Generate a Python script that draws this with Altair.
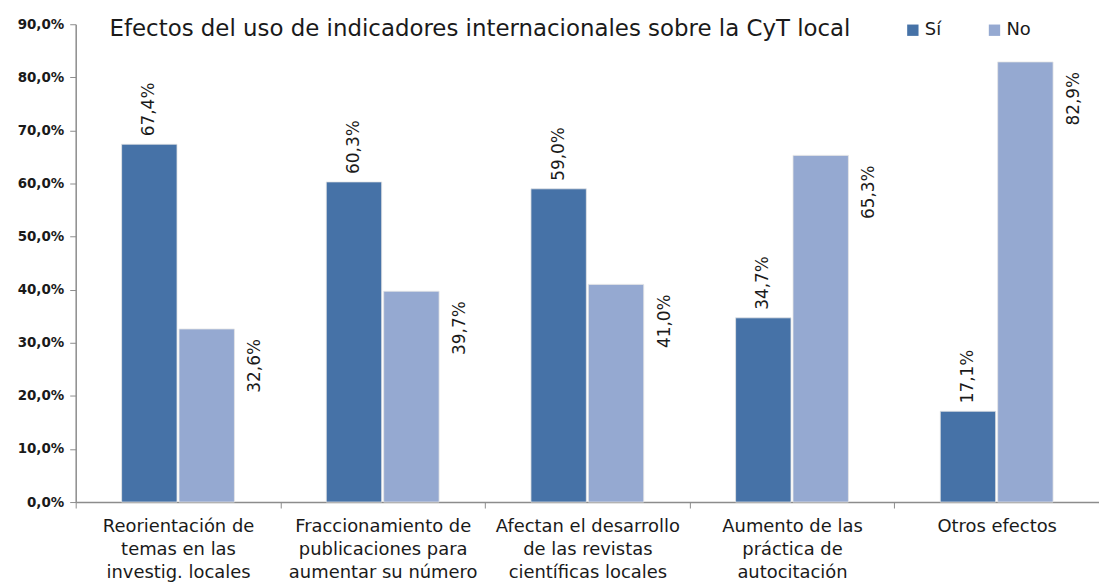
import altair as alt
import pandas as pd

categories = [
    "Reorientación de|temas en las|investig. locales",
    "Fraccionamiento de|publicaciones para|aumentar su número",
    "Afectan el desarrollo|de las revistas|científicas locales",
    "Aumento de las|práctica de|autocitación",
    "Otros efectos",
]
series = ["Sí", "No"]
si_values = [67.4, 60.3, 59.0, 34.7, 17.1]
no_values = [32.6, 39.7, 41.0, 65.3, 82.9]
y_ticks = [0, 0.1, 0.2, 0.3, 0.4, 0.5, 0.6, 0.7, 0.8, 0.9]
title_text = "Efectos del uso de indicadores internacionales sobre la CyT local"

rows = []
for c, s, n in zip(categories, si_values, no_values):
    rows.append({"cat": c, "serie": "Sí", "value": s / 100, "label": f"{s:.1f}%".replace(".", ",")})
    rows.append({"cat": c, "serie": "No", "value": n / 100, "label": f"{n:.1f}%".replace(".", ",")})
df = pd.DataFrame(rows)

FONT = "DejaVu Sans"

base = alt.Chart(df).encode(
    x=alt.X(
        "cat:N",
        sort=categories,
        scale=alt.Scale(paddingInner=0, paddingOuter=0),
        axis=alt.Axis(
            title=None,
            labelAngle=0,
            labelExpr="split(datum.label, '|')",
            labelFont=FONT,
            labelFontSize=18,
            labelLineHeight=23,
            labelPadding=10,
            labelColor="#1a1a1a",
            labelLimit=0,
            labelOverlap=False,
            tickBand="extent",
            tickSize=6,
            tickColor="#8c8c8c",
            domainColor="#8c8c8c",
            domainWidth=1.5,
        ),
    ),
    xOffset=alt.XOffset(
        "serie:N",
        sort=series,
        scale=alt.Scale(paddingInner=0.035, paddingOuter=0.8),
    ),
    y=alt.Y(
        "value:Q",
        scale=alt.Scale(domain=[0, 0.9], nice=False),
        axis=alt.Axis(
            title=None,
            values=y_ticks,
            labelExpr="replace(format(datum.value, '.1%'), '.', ',')",
            labelFont=FONT,
            labelFontWeight="bold",
            labelFontSize=13.5,
            labelColor="#1a1a1a",
            labelPadding=6,
            grid=False,
            tickSize=6,
            tickColor="#8c8c8c",
            domainColor="#8c8c8c",
            domainWidth=1.5,
        ),
    ),
)

bars = base.mark_bar(stroke="#e6e6e6", strokeWidth=0.8).encode(
    color=alt.Color(
        "serie:N",
        sort=series,
        scale=alt.Scale(domain=series, range=["#4672A7", "#95A9D1"]),
        legend=alt.Legend(
            title=None,
            orient="none",
            legendX=832,
            legendY=-3,
            direction="horizontal",
            symbolType="square",
            symbolSize=130,
            symbolStrokeWidth=0,
            labelFont=FONT,
            labelFontSize=18,
            labelColor="#1a1a1a",
            columnPadding=44,
            labelOffset=3,
        ),
    )
)

si_labels = base.transform_filter(alt.datum.serie == "Sí").mark_text(
    angle=270, align="left", baseline="middle", dx=8, font=FONT, fontSize=17, color="#1a1a1a"
).encode(text="label:N")

no_labels = base.transform_filter(alt.datum.serie == "No").mark_text(
    angle=270, align="right", baseline="middle", dx=-10, dy=49, font=FONT, fontSize=17, color="#1a1a1a"
).encode(text="label:N")

title = alt.Chart(pd.DataFrame({"t": [title_text]})).mark_text(
    align="left", baseline="middle", font=FONT, fontSize=23, color="#1a1a1a"
).encode(text="t:N", x=alt.value(34), y=alt.value(5))

chart = alt.layer(bars, si_labels, no_labels, title).properties(
    width=1028,
    height=480,
    autosize=alt.AutoSizeParams(type="none"),
    padding={"left": 68, "top": 15, "right": 0, "bottom": 80},
).configure_view(stroke=None)

chart.save("out.html", embed_options={"renderer": "svg", "actions": False})
